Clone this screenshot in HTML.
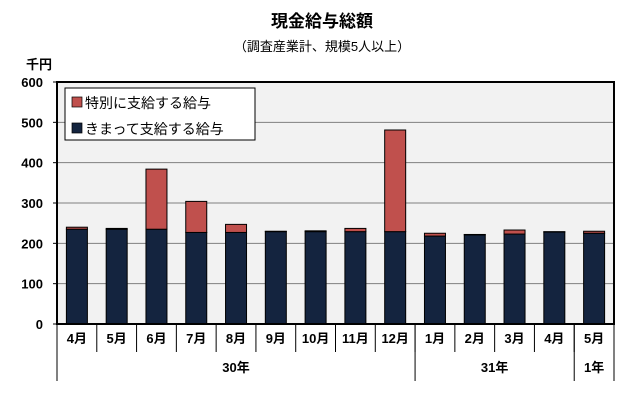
<!DOCTYPE html>
<html><head><meta charset="utf-8"><style>
body{margin:0;background:#fff;}
svg text{font-family:"Liberation Sans","Noto Sans CJK JP",sans-serif;}
</style></head><body>
<svg width="643" height="412" viewBox="0 0 643 412" xmlns="http://www.w3.org/2000/svg">
<text x="322" y="27" text-anchor="middle" font-size="17" font-weight="bold">現金給与総額</text>
<text x="322" y="51" text-anchor="middle" font-size="13">（調査産業計、規模5人以上）</text>
<text x="26" y="69" font-size="13" font-weight="bold">千円</text>
<rect x="57" y="82" width="557" height="242" fill="#f2f2f2"/>
<g id="grid"></g>
<g id="bars"></g>
<rect x="57" y="82" width="557" height="242" fill="none" stroke="#000" stroke-width="2"/>
<g id="yticks"></g>
<g id="xcats"></g>
<g>
<rect x="65" y="88" width="190" height="52" fill="#fff" stroke="#000"/>
<rect x="72" y="97" width="10" height="10" fill="#c0504d" stroke="#000" stroke-width="0.7"/>
<text x="85" y="108" font-size="14">特別に支給する給与</text>
<rect x="72" y="123" width="10" height="10" fill="#14243f" stroke="#000" stroke-width="0.7"/>
<text x="85" y="134" font-size="14">きまって支給する給与</text>
</g>
</svg>
<script>
const categories=["4月","5月","6月","7月","8月","9月","10月","11月","12月","1月","2月","3月","4月"," 5月"];
const cats=["4月","5月","6月","7月","8月","9月","10月","11月","12月","1月","2月","3月","4月","5月"].slice(0,13);
const regular=[235,235,235,227,227,229,229,229,229,218,221,223,228];
const special=[5,2,149,77,20,1,2,8,252,7,1,10,1];
const yTicks=[0,100,200,300,400,500,600];
const years=[["30年",0,9],["31年",9,13]];
</script>
<script>
// fix: 13 categories incl. final 5月 (1年)
const catLabels=["4月","5月","6月","7月","8月","9月","10月","11月","12月","1月","2月","3月","4月","5月"];
const regVals=[235,235,235,227,227,229,229,229,229,218,221,223,228,225];
const spVals=[5,2,149,77,20,1,2,8,252,7,1,10,1,5];
const yearGroups=[["30年",0,9],["31年",9,13],["1年",13,14]];
const NS="http://www.w3.org/2000/svg";
const X0=57,X1=614,Y0=324,Y1=82,MAX=600;
const n=catLabels.length,bw=(X1-X0)/n;
const y=v=>Y0-(v/MAX)*(Y0-Y1);
const x=i=>X0+i*bw;
function mk(tag,attrs,parent){const e=document.createElementNS(NS,tag);for(const k in attrs)e.setAttribute(k,attrs[k]);document.getElementById(parent)?document.getElementById(parent).appendChild(e):parent.appendChild(e);return e;}
const svg=document.querySelector('svg');
yTicks.forEach(t=>{
 if(t>0&&t<MAX){const g=mk('line',{x1:X0,x2:X1,y1:y(t),y2:y(t),stroke:'#808080','stroke-width':1},'grid');
 
 }
 const tx=mk('text',{x:43,y:y(t)+5,'text-anchor':'end','font-size':13,'font-weight':'bold'},'yticks');
 tx.textContent=t;
 
 
 const tk=mk('line',{x1:X0-4,x2:X0,y1:y(t),y2:y(t),stroke:'#000'},'yticks');
 
 
});
catLabels.forEach((c,i)=>{
 const cx=x(i)+bw/2,w=21;
 const r=mk('rect',{x:cx-w/2,y:y(regVals[i]),width:w,height:Y0-y(regVals[i]),fill:'#14243f',stroke:'#000','stroke-width':1},'bars');
 
 
 const s=mk('rect',{x:cx-w/2,y:y(regVals[i]+spVals[i]),width:w,height:y(regVals[i])-y(regVals[i]+spVals[i]),fill:'#c0504d',stroke:'#000','stroke-width':1},'bars');
 
 
 const t=mk('text',{x:cx,y:343,'text-anchor':'middle','font-size':13,'font-weight':'bold'},'xcats');
 t.textContent=c;
 
 
 const d=mk('line',{x1:x(i),x2:x(i),y1:Y0,y2:352,stroke:'#000'},'xcats');
 
 
});
mk('line',{x1:X1,x2:X1,y1:Y0,y2:381,stroke:'#000'},'xcats');
yearGroups.forEach(([lab,a,b])=>{
 const l=mk('line',{x1:x(a),x2:x(a),y1:Y0,y2:381,stroke:'#000'},'xcats');
 
 
 const t=mk('text',{x:(x(a)+x(b))/2,y:372,'text-anchor':'middle','font-size':13,'font-weight':'bold'},'xcats');
 t.textContent=lab;
 
 
});
</script>
</body></html>
